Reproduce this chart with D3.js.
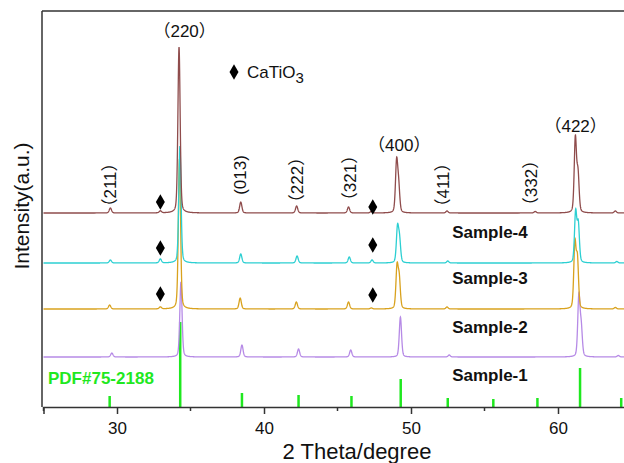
<!DOCTYPE html>
<html lang="en">
<head>
    <meta charset="UTF-8">
    <script src="https://d3js.org/d3.v7.min.js"></script>
    <title>XRD patterns</title>
    <style>
        body { margin: 0; background: #fff; }
        svg { display: block; font-family: Arial, "Liberation Sans", "Noto Sans CJK SC", sans-serif; }
        .tick text { font-size: 17px; fill: #111; }
        .sample-label { font-size: 17px; font-weight: bold; fill: #111; }
        .hkl { font-size: 17px; fill: #111; }
    </style>
</head>
<body>
    <svg id="chart" width="624" height="463"></svg>

    <script>
        // peaks: [2theta, height above baseline]
        const sample1Peaks = [[29.65, 4], [34.35, 75], [38.5, 12], [42.35, 8], [45.9, 7], [49.28, 40], [52.6, 2], [61.42, 60], [61.58, 28], [64.1, 1.5]];
        const sample2Peaks = [[29.5, 4], [32.95, 2], [34.25, 150], [38.38, 11], [42.2, 7], [45.75, 7], [47.3, 1], [49.05, 41], [49.2, 29], [52.45, 2], [61.15, 64], [61.32, 48], [63.9, 1.5]];
        const sample3Peaks = [[29.55, 3], [32.95, 4], [34.28, 117], [38.42, 9], [42.25, 7], [45.8, 6], [47.35, 3], [49.08, 34], [49.22, 22], [52.5, 2], [61.2, 50], [61.38, 38], [64.0, 1.5]];
        const sample4Peaks = [[29.55, 5], [32.95, 2], [34.22, 166], [38.42, 11], [42.22, 7], [45.75, 6], [47.3, 1.5], [49.02, 50], [49.16, 25], [52.45, 2], [58.45, 1.5], [61.18, 74], [61.36, 38], [63.9, 2]];

        const sampleNames = ["Sample-1", "Sample-2", "Sample-3", "Sample-4"];
        const sampleOffsets = [50, 98, 144, 194];
        const sampleColors = ["#b68ae6", "#d9a21e", "#2ccfd2", "#8f4c4c"];

        // PDF#75-2188 reference lines: [2theta, relative intensity]
        const pdfLines = [[29.5, 11], [34.3, 85], [38.5, 14], [42.35, 12], [45.95, 11], [49.3, 28], [52.5, 9], [55.6, 8], [58.6, 9], [61.5, 39], [64.3, 9]];

        // CaTiO3 markers: [2theta, intensity]
        const caTiO3Marks = [[32.95, 205], [47.4, 200], [32.95, 159], [47.4, 162], [32.95, 113], [47.4, 112]];

        // hkl labels: [text, 2theta, intensity, rotated]
        const hklLabels = [
            ["（220）", 34.6, 370, false],
            ["（400）", 49.2, 256, false],
            ["（422）", 61.2, 275, false],
            ["（211）", 29.55, 222, true],
            ["(013)", 38.4, 232, true],
            ["（222）", 42.25, 227, true],
            ["（321）", 45.85, 229, true],
            ["（411）", 52.15, 222, true],
            ["（332）", 58.15, 224, true]
        ];

        const xTicks = [30, 40, 50, 60];
        const xMinorTicks = [25, 35, 45, 55, 65];

        const svg = d3.select("#chart");
        const plotLeft = 42, plotTop = 11, plotBottom = 407;

        const x = d3.scaleLinear().domain([25, 65]).range([43.5, 631.5]);
        const y = d3.scaleLinear().domain([0, 396]).range([plotBottom, plotTop]);

        // pseudo-Voigt line shape for each listed peak
        const hw = 0.09, eta = 0.3;
        const profile = (peaks, offset) => {
            const pts = [];
            for (let t = 25; t <= 65.001; t += 0.01) {
                let v = offset;
                peaks.forEach(([c, h]) => {
                    const u = (t - c) / hw;
                    v += h * (eta / (1 + u * u) + (1 - eta) * Math.exp(-Math.LN2 * u * u));
                });
                pts.push([t, v]);
            }
            return pts;
        };

        // PDF reference sticks
        svg.append("g").selectAll("line")
            .data(pdfLines)
            .enter().append("line")
            .attr("x1", d => x(d[0])).attr("x2", d => x(d[0]))
            .attr("y1", y(0)).attr("y2", d => y(d[1]))
            .attr("stroke", "#1fe81f")
            .attr("stroke-width", 2.5);

        const line = d3.line().x(d => x(d[0])).y(d => y(d[1]));
        const allPeaks = [sample1Peaks, sample2Peaks, sample3Peaks, sample4Peaks];
        allPeaks.forEach((peaks, i) => {
            svg.append("path")
                .attr("d", line(profile(peaks, sampleOffsets[i])))
                .attr("fill", "none")
                .attr("stroke", sampleColors[i])
                .attr("stroke-width", 1.3);
        });

        // frame: left and top
        svg.append("line").attr("x1", plotLeft).attr("x2", plotLeft).attr("y1", plotTop).attr("y2", plotBottom)
            .attr("stroke", "#333").attr("stroke-width", 1.5);
        svg.append("line").attr("x1", plotLeft).attr("x2", 624).attr("y1", plotTop).attr("y2", plotTop)
            .attr("stroke", "#333").attr("stroke-width", 1.5);

        // x axis
        const xAxis = svg.append("g").attr("transform", `translate(0,${plotBottom})`)
            .call(d3.axisBottom(x).tickValues(xTicks).tickSize(7).tickPadding(8).tickFormat(d3.format("d")));
        xAxis.select(".domain").attr("stroke", "#333").attr("stroke-width", 1.5);
        xAxis.selectAll(".tick line").attr("stroke", "#333").attr("stroke-width", 1.5);
        xAxis.attr("font-family", null).attr("font-size", null);
        xAxis.append("g").selectAll("line")
            .data(xMinorTicks)
            .enter().append("line")
            .attr("x1", d => x(d)).attr("x2", d => x(d))
            .attr("y1", 0).attr("y2", 4)
            .attr("stroke", "#333").attr("stroke-width", 1.5);

        svg.append("text")
            .attr("x", 357).attr("y", 459)
            .attr("text-anchor", "middle")
            .attr("font-size", 22).attr("fill", "#111")
            .text("2 Theta/degree");

        svg.append("text")
            .attr("transform", "translate(29,206) rotate(-90)")
            .attr("text-anchor", "middle")
            .attr("font-size", 21).attr("fill", "#111")
            .text("Intensity(a.u.)");

        // sample labels
        const labelY = [26, 74, 123, 169];
        sampleNames.forEach((name, i) => {
            svg.append("text")
                .attr("class", "sample-label")
                .attr("x", x(55.37)).attr("y", y(labelY[i]))
                .attr("text-anchor", "middle")
                .text(name);
        });

        svg.append("text")
            .attr("x", 48).attr("y", y(23))
            .attr("font-size", 17).attr("font-weight", "bold")
            .attr("fill", "#1fe81f")
            .text("PDF#75-2188");

        // hkl annotations
        hklLabels.forEach(([txt, t, v, rot]) => {
            const el = svg.append("text").attr("class", "hkl").attr("text-anchor", "middle").text(txt);
            if (rot) el.attr("transform", `translate(${x(t) + 6},${y(v)}) rotate(-90)`).attr("font-size", 16);
            else el.attr("x", x(t)).attr("y", y(v));
        });

        // CaTiO3 markers and legend
        const diamond = d3.symbol().type(d3.symbolDiamond).size(70);
        svg.append("g").selectAll("path")
            .data(caTiO3Marks)
            .enter().append("path")
            .attr("transform", d => `translate(${x(d[0])},${y(d[1])})`)
            .attr("d", diamond)
            .attr("fill", "#000");

        svg.append("path")
            .attr("transform", "translate(234,72)")
            .attr("d", diamond)
            .attr("fill", "#000");
        const legend = svg.append("text").attr("x", 247).attr("y", 78)
            .attr("font-size", 17).attr("fill", "#111");
        legend.append("tspan").text("CaTiO");
        legend.append("tspan").attr("dy", 5).attr("font-size", 15).text("3");
    </script>
</body>
</html>
